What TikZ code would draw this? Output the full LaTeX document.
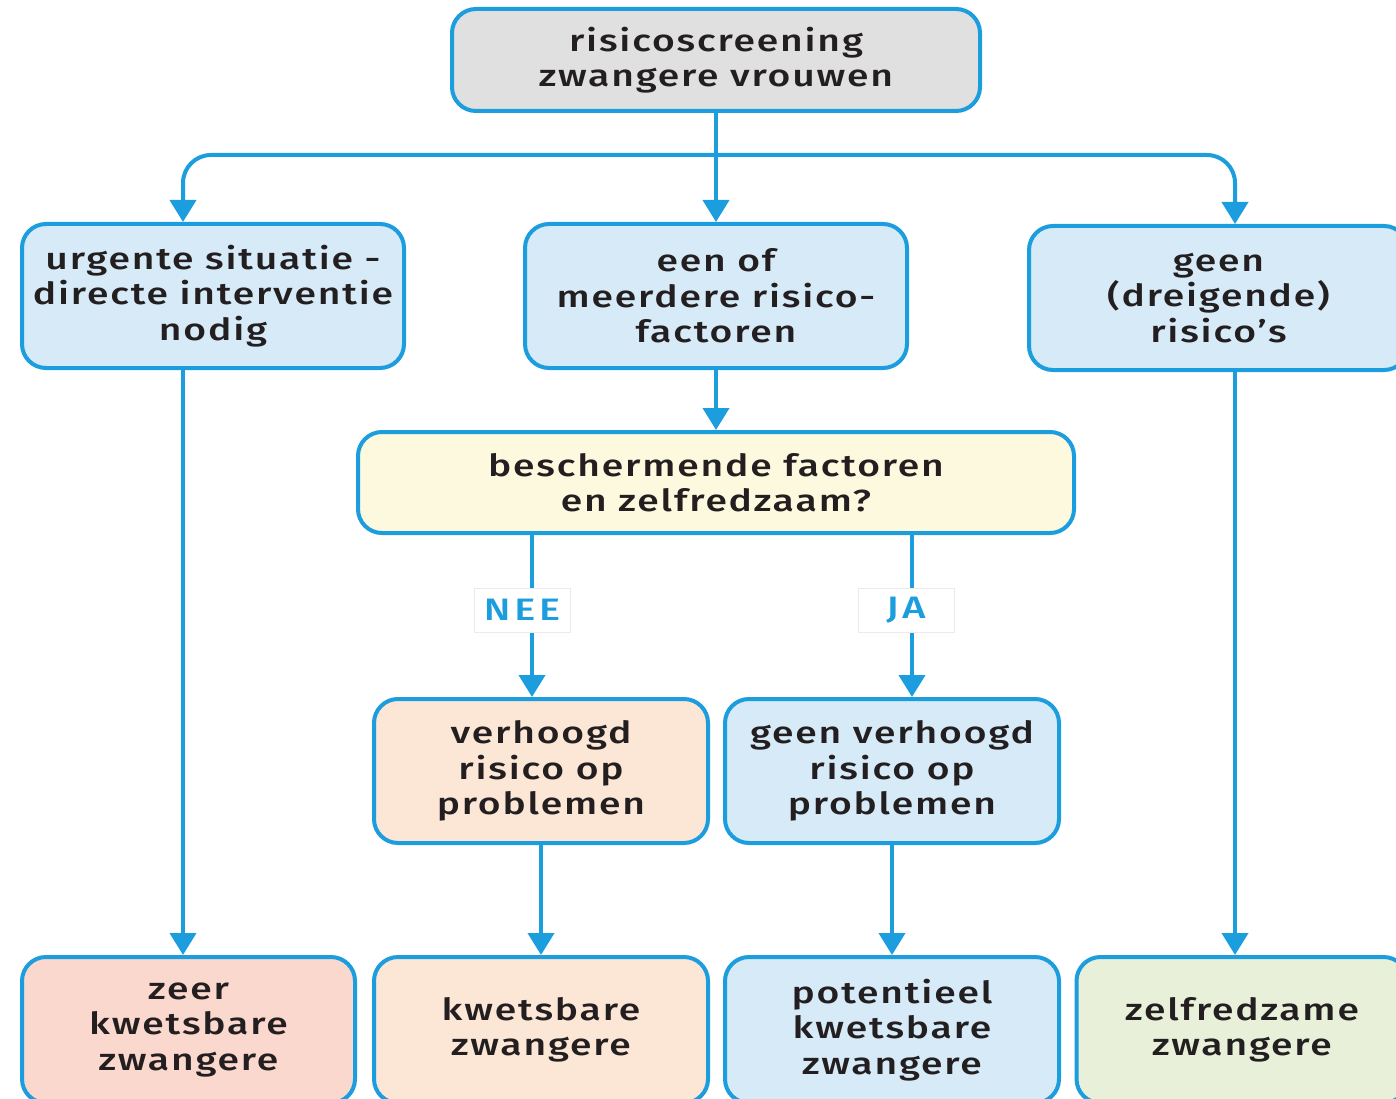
\documentclass[tikz,border=0pt]{standalone}
\usepackage{fontspec}
\setmainfont{Fira Sans}[UprightFont={* Medium}, FakeStretch=1.28, LetterSpace=6]
\newfontfamily\labfont{Fira Sans}[UprightFont={* Medium}, FakeStretch=1.28, LetterSpace=12]
\usetikzlibrary{arrows.meta}
\definecolor{lineblue}{RGB}{27,157,222}
\definecolor{txt}{RGB}{35,31,32}
\definecolor{fgray}{RGB}{224,224,224}
\definecolor{fblue}{RGB}{214,234,248}
\definecolor{fyellow}{RGB}{252,249,222}
\definecolor{fpeach}{RGB}{252,230,214}
\definecolor{fpink}{RGB}{250,216,206}
\definecolor{fgreen}{RGB}{232,240,218}
\begin{document}
\begin{tikzpicture}[x=1pt,y=-1pt,
  box/.style={draw=lineblue, line width=4pt, rounded corners=24pt, align=center,
    font=\fontsize{30.5}{35.5}\selectfont, text=txt, inner sep=0pt},
  arr/.style={draw=lineblue, line width=4pt, -{Triangle[length=22pt,width=26pt]}},
  lab/.style={fill=white, draw=black!8, line width=0.8pt, text=lineblue,
    font=\labfont\fontsize{31}{31}\selectfont, minimum width=96pt, minimum height=44pt, inner sep=0pt}]
\useasboundingbox (0,0) rectangle (1396,1099);
\clip (0,0) rectangle (1396,1099);
% nodes
\node[box, fill=fgray, minimum width=528pt, minimum height=102pt] (top) at (716,60)
  {risicoscreening\\zwangere vrouwen};
\node[box, fill=fblue, minimum width=382pt, minimum height=144pt] (urg) at (213,296)
  {urgente situatie -\\directe interventie\\nodig};
\node[box, fill=fblue, minimum width=382pt, minimum height=144pt] (een) at (716,296)
  {een of\\meerdere risico-\\factoren};
\node[box, fill=fblue, minimum width=379pt, minimum height=144pt] (geen) at (1218.5,298)
  {geen\\(dreigende)\\risico’s};
\node[box, fill=fyellow, minimum width=716pt, minimum height=101pt] (vraag) at (716,482.5)
  {beschermende factoren\\en zelfredzaam?};
\node[box, fill=fpeach, minimum width=334pt, minimum height=144pt] (verh) at (541,771)
  {verhoogd\\risico op\\problemen};
\node[box, fill=fblue, minimum width=334pt, minimum height=144pt] (gverh) at (892,771)
  {geen verhoogd\\risico op\\problemen};
\node[box, fill=fpink, minimum width=333pt, minimum height=146pt] (zeer) at (188.5,1030)
  {zeer\\kwetsbare\\zwangere};
\node[box, fill=fpeach, minimum width=334pt, minimum height=146pt] (kw) at (541,1030)
  {kwetsbare\\zwangere};
\node[box, fill=fblue, minimum width=334pt, minimum height=146pt] (pot) at (892,1030)
  {potentieel\\kwetsbare\\zwangere};
\node[box, fill=fgreen, minimum width=331pt, minimum height=146pt] (zelf) at (1242,1030)
  {zelfredzame\\zwangere};
% connectors
\coordinate (split) at (716,155);
\draw[arr] (top.south) -- (een.north);
\draw[arr, rounded corners=28pt] (split) -| ([xshift=-30pt]urg.north);
\draw[arr, rounded corners=28pt] (split) -| ([xshift=16.5pt]geen.north);
\draw[arr] ([xshift=-30pt]urg.south) -- ([xshift=-30pt]urg.south |- zeer.north);
\draw[arr] (een.south) -- (vraag.north);
\draw[arr] ([xshift=16.5pt]geen.south) -- ([xshift=16.5pt]geen.south |- zelf.north);
\draw[arr] ([xshift=-9pt]verh.north |- vraag.south) -- ([xshift=-9pt]verh.north);
\draw[arr] ([xshift=20pt]gverh.north |- vraag.south) -- ([xshift=20pt]gverh.north);
\draw[arr] (verh.south) -- (kw.north);
\draw[arr] (gverh.south) -- (pot.north);
\node[lab] (nee) at (522,610) {NEE};
\node[lab] (ja) at (906,610) {JA};
\end{tikzpicture}
\end{document}
